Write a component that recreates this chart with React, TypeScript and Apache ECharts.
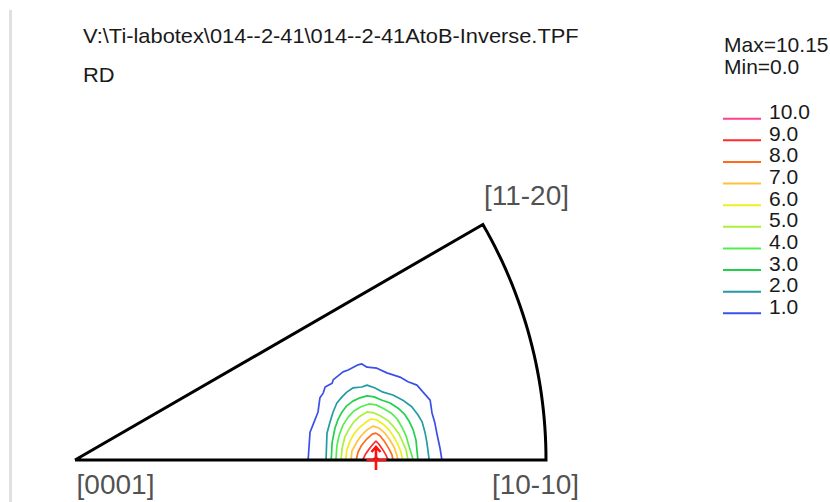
import React, { useEffect, useRef } from "react";
import * as echarts from "echarts";

// Inverse pole figure header
const fileName = "V:\\Ti-labotex\\014--2-41\\014--2-41AtoB-Inverse.TPF";
const sampleAxis = "RD";
const maxDensity = "10.15";
const minDensity = "0.0";

// Contour levels (multiples of random) and their line colours
const levels = [1, 2, 3, 4, 5, 6, 7, 8, 9, 10];
const levelColors = [
  "#3a50e8", "#229ba2", "#22d04c", "#52ee4e", "#aaf03c",
  "#eeee22", "#ffc23c", "#ff6a1c", "#ff2a2a", "#ff3f8f",
];

// Projected positions, in percent of the stereographic radius
const poles = [
  { name: "[0001]", value: [0, 0] },
  { name: "[10-10]", value: [100, 0] },
  { name: "[11-20]", value: [86.6, 50] },
];
const sectorAngleDeg = 30;
const peakPosition = [63.9, 0];

// Iso-density contours, [x, y] in percent of radius
const contour1 = [
  [49.5, 0], [49.9, 5.9], [50.5, 7.4], [51.6, 10.2], [52.0, 13.2], [52.7, 14.2],
  [53.1, 15.5], [54.6, 16.3], [54.8, 17.0], [56.9, 18.7], [58.0, 19.1], [60.1, 20.2],
  [60.9, 20.4], [62.0, 19.7], [64.1, 19.5], [66.2, 18.5], [69.0, 17.6], [70.7, 16.6],
  [72.6, 15.9], [73.9, 14.4], [75.4, 12.7], [75.8, 10.0], [76.4, 7.9], [76.9, 5.3],
  [77.5, 2.5], [77.9, 0],
];
const contour2 = [
  [53.3, 0], [53.5, 5.7], [54.1, 7.9], [54.8, 10.2], [55.6, 12.1], [56.7, 13.4],
  [57.7, 14.4], [59.0, 15.3], [60.9, 15.5], [62.0, 15.9], [63.7, 15.3], [65.4, 14.4],
  [67.5, 13.8], [69.6, 12.7], [71.5, 11.3], [72.8, 9.6], [73.7, 8.1], [74.3, 5.9],
  [74.7, 3.8], [75.2, 0],
];
const contour3 = [
  [54.4, 0], [54.6, 3.8], [55.2, 6.8], [55.8, 8.5], [56.7, 10.2], [57.7, 11.5],
  [59.0, 12.5], [60.5, 13.2], [62.0, 13.6], [63.5, 13.4], [65.2, 12.7], [66.9, 12.1],
  [68.6, 11.0], [69.9, 9.8], [70.9, 8.3], [71.8, 6.4], [72.4, 4.2], [72.6, 2.1], [72.8, 0],
];
const contour4 = [
  [55.4, 0], [55.6, 3.0], [56.1, 5.3], [56.9, 7.4], [58.0, 9.1], [59.2, 10.4],
  [60.7, 11.3], [62.4, 11.9], [63.9, 11.7], [65.4, 11.0], [67.1, 10.0], [68.4, 8.7],
  [69.4, 7.0], [70.3, 5.1], [70.9, 3.0], [71.8, 0],
];
const contour5 = [
  [56.5, 0], [56.7, 2.5], [57.3, 4.9], [58.2, 6.6], [59.2, 8.1], [60.5, 9.3],
  [62.0, 10.2], [63.5, 10.0], [65.0, 9.3], [66.5, 8.3], [67.7, 7.0], [68.8, 5.5],
  [69.6, 3.8], [70.3, 2.1], [70.7, 0],
];
const contour6 = [
  [57.5, 0], [57.7, 2.1], [58.4, 4.0], [59.2, 5.5], [60.3, 6.8], [61.6, 7.9],
  [62.8, 8.7], [64.1, 8.5], [65.4, 7.6], [66.7, 6.4], [67.7, 4.9], [68.6, 3.2],
  [69.2, 1.7], [69.6, 0],
];
const contour7 = [
  [58.6, 0], [58.8, 1.9], [59.7, 3.6], [60.7, 5.1], [62.0, 6.4], [63.3, 7.2],
  [64.5, 6.8], [65.8, 5.7], [66.9, 4.2], [67.7, 2.8], [68.2, 1.5], [68.6, 0],
];
const contour8 = [
  [59.7, 0], [60.1, 1.7], [60.9, 3.2], [62.0, 4.5], [63.1, 5.5], [63.9, 5.7],
  [64.8, 5.1], [65.8, 3.8], [66.7, 2.3], [67.3, 1.1], [67.5, 0],
];
const contour9 = [
  [61.1, 0], [61.6, 1.1], [62.4, 2.3], [63.3, 3.4], [63.9, 4.0], [64.5, 3.4],
  [65.4, 2.1], [66.0, 1.1], [66.5, 0],
];
const contour10 = [[63.3, 0], [63.9, 0.8], [64.5, 0]];

const contours = [
  contour1, contour2, contour3, contour4, contour5,
  contour6, contour7, contour8, contour9, contour10,
];

const FONT = '"Liberation Sans", Arial, sans-serif';
const TEXT_COLOR = "#1a1a1a";

// Unit triangle outline: two straight edges plus the outer great circle
function sectorOutline(): number[][] {
  const pts: number[][] = [[0, 0]];
  for (let a = 0; a <= sectorAngleDeg; a += 1) {
    const r = (a * Math.PI) / 180;
    pts.push([100 * Math.cos(r), 100 * Math.sin(r)]);
  }
  pts.push([0, 0]);
  return pts;
}

const poleLabelOffset: Record<string, number[]> = {
  "[0001]": [40.5, 24],
  "[10-10]": [-10.5, 24.5],
  "[11-20]": [43.6, -29.5],
};

function buildLegend(): any[] {
  const els: any[] = [
    {
      type: "text", x: 724, y: 44,
      style: { text: `Max=${maxDensity}`, font: `21px ${FONT}`, fill: TEXT_COLOR, verticalAlign: "middle" },
    },
    {
      type: "text", x: 724, y: 66.5,
      style: { text: `Min=${minDensity}`, font: `21px ${FONT}`, fill: TEXT_COLOR, verticalAlign: "middle" },
    },
  ];
  const ordered = levels.map((v, i) => ({ v, c: levelColors[i] })).reverse();
  ordered.forEach((item, i) => {
    const ly = 118.7 + i * 21.62;
    els.push({
      type: "line",
      shape: { x1: 723, y1: ly, x2: 761, y2: ly },
      style: { stroke: item.c, lineWidth: 2 },
    });
    els.push({
      type: "text", x: 769, y: ly - 7,
      style: { text: item.v.toFixed(1), font: `21px ${FONT}`, fill: TEXT_COLOR, verticalAlign: "middle" },
    });
  });
  return els;
}

export default function App() {
  const ref = useRef<HTMLDivElement>(null);

  useEffect(() => {
    if (!ref.current) return;
    const chart = echarts.init(ref.current, null, { renderer: "svg" });

    const contourSeries = contours.map((pts, i) => ({
      type: "line",
      name: levels[i].toFixed(1),
      data: pts,
      showSymbol: false,
      symbol: "none",
      clip: false,
      z: 2,
      lineStyle: { color: levelColors[i], width: 1.7 },
    }));

    chart.setOption({
      animation: false,
      backgroundColor: "#ffffff",
      grid: { left: 75, top: 177.4, width: 518.1, height: 306.15 },
      xAxis: { type: "value", min: 0, max: 110, show: false },
      yAxis: { type: "value", min: -5, max: 60, show: false },
      graphic: [
        { type: "rect", shape: { x: 9, y: 10, width: 3, height: 492 }, style: { fill: "#e0e0e0" } },
        {
          type: "text", x: 83, y: 36.5, scaleX: 1.04,
          style: { text: fileName, font: `21px ${FONT}`, fill: TEXT_COLOR, verticalAlign: "middle" },
        },
        {
          type: "text", x: 83, y: 75, scaleX: 1.04,
          style: { text: sampleAxis, font: `21px ${FONT}`, fill: TEXT_COLOR, verticalAlign: "middle" },
        },
        ...buildLegend(),
      ],
      series: [
        ...contourSeries,
        {
          type: "line",
          name: "outline",
          data: sectorOutline(),
          showSymbol: false,
          symbol: "none",
          clip: false,
          z: 3,
          lineStyle: { color: "#000000", width: 3, join: "miter" },
        },
        {
          type: "custom",
          name: "peak",
          z: 4,
          clip: false,
          data: [peakPosition],
          renderItem: (_params: any, api: any) => {
            const p = api.coord([api.value(0), api.value(1)]);
            const st = { stroke: "#ff1010", lineWidth: 2.6, fill: "none" };
            return {
              type: "group",
              children: [
                { type: "line", shape: { x1: p[0] - 9.5, y1: p[1], x2: p[0] + 10.5, y2: p[1] }, style: st },
                { type: "line", shape: { x1: p[0], y1: p[1] + 10, x2: p[0], y2: p[1] - 13 }, style: st },
                {
                  type: "polyline",
                  shape: { points: [[p[0] - 4.5, p[1] - 8], [p[0], p[1] - 13], [p[0] + 4.5, p[1] - 8]] },
                  style: st,
                },
              ],
            };
          },
        },
        {
          type: "scatter",
          name: "poles",
          symbolSize: 1,
          z: 5,
          itemStyle: { color: "transparent" },
          data: poles.map((p) => ({
            name: p.name,
            value: p.value,
            label: { offset: poleLabelOffset[p.name] },
          })),
          label: {
            show: true,
            position: "inside",
            formatter: "{b}",
            fontFamily: FONT,
            fontSize: 28,
            color: "#222222",
            align: "center",
            verticalAlign: "middle",
          },
        },
      ],
    });

    return () => chart.dispose();
  }, []);

  return (
    <div
      ref={ref}
      style={{ position: "fixed", left: 0, top: 0, width: 830, height: 502, background: "#fff" }}
    />
  );
}
